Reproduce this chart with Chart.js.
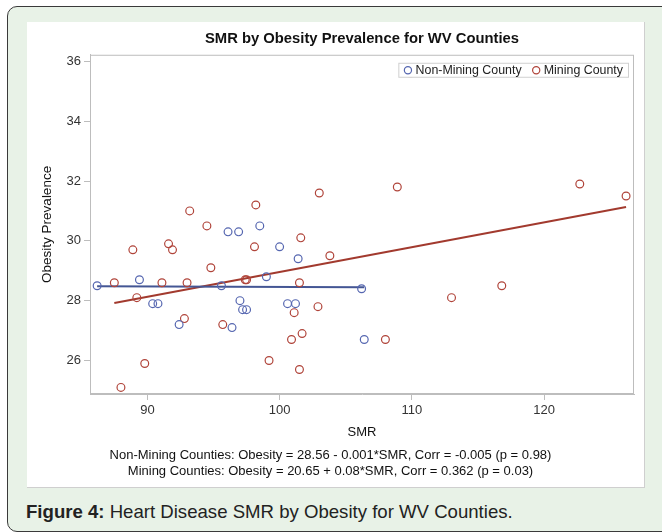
<!DOCTYPE html>
<html>
<head>
<meta charset="utf-8">
<script src="https://cdn.jsdelivr.net/npm/chart.js@4.4.1/dist/chart.umd.min.js"></script>
<style>
  body { margin: 0; background: #fff; font-family: "Liberation Sans", Arial, sans-serif; }
  #frame { position: absolute; left: 7px; top: 6px; width: 680px; height: 524px;
           border: 1.5px solid #3a3a3a; border-radius: 10px; background: #e8f2e7; }
  #box { position: absolute; left: 27px; top: 22px; width: 617px; height: 465px;
         background: #fff; border-right: 1px solid #cfcfcf; border-bottom: 1px solid #cfcfcf; }
  #caption { position: absolute; left: 26px; top: 501px; font-size: 18.6px; color: #222; }
</style>
</head>
<body>
<div id="frame"></div>
<div id="box"><canvas id="chart" width="617" height="465"></canvas></div>
<div id="caption"><b>Figure 4:</b> Heart Disease SMR by Obesity for WV Counties.</div>
<script>
// Non-mining counties: SMR, obesity prevalence
const nonMiningSmr = [86.2, 89.4, 90.4, 90.8, 92.4, 95.6, 96.1, 96.4, 96.9, 97.0,
                      97.2, 97.5, 98.5, 99.0, 100.0, 100.6, 101.2, 101.4, 106.2, 106.4]
const nonMiningObesity = [28.5, 28.7, 27.9, 27.9, 27.2, 28.5, 30.3, 27.1, 30.3, 28.0,
                          27.7, 27.7, 30.5, 28.8, 29.8, 27.9, 27.9, 29.4, 28.4, 26.7]

// Mining counties
const miningSmr = [87.5, 88.0, 88.9, 89.2, 89.8, 91.1, 91.6, 91.9, 92.8, 93.0,
                   93.2, 94.5, 94.8, 95.7, 97.4, 97.5, 98.1, 98.2, 99.2, 100.9,
                   101.1, 101.5, 101.5, 101.6, 101.7, 102.9, 103.0, 103.8, 108.0, 108.9,
                   109.9, 113.0, 116.8, 122.7, 126.2]
const miningObesity = [28.6, 25.1, 29.7, 28.1, 25.9, 28.6, 29.9, 29.7, 27.4, 28.6,
                       31.0, 30.5, 29.1, 27.2, 28.7, 28.7, 29.8, 31.2, 26.0, 26.7,
                       27.6, 28.6, 25.7, 30.1, 26.9, 27.8, 31.6, 29.5, 26.7, 31.8,
                       35.6, 28.1, 28.5, 31.9, 31.5]

// fitted line end points
const nonMiningFitSmr = [86.2, 106.4]
const nonMiningFitObesity = [28.48, 28.45]
const miningFitSmr = [87.5, 126.2]
const miningFitObesity = [27.92, 31.13]

const xTicks = [90, 100, 110, 120]
const yTicks = [26, 28, 30, 32, 34, 36]

const seriesLabels = ['Non-Mining County', 'Mining County']
const footnotes = [
    'Non-Mining Counties: Obesity = 28.56 - 0.001*SMR, Corr = -0.005 (p = 0.98)',
    'Mining Counties: Obesity = 20.65 + 0.08*SMR, Corr = 0.362 (p = 0.03)'
]

const BLUE = '#5566b0'
const RED = '#b0443a'
const BLUE_LINE = '#445694'
const RED_LINE = '#a23a2e'
const FONT = '"Liberation Sans", Arial, sans-serif'

function toPoints(xs, ys) {
    return xs.map((x, i) => ({ x: x, y: ys[i] }))
}

const frameAndLegend = {
    id: 'frameAndLegend',
    afterDraw(chart) {
        const ctx = chart.ctx
        const a = chart.chartArea
        ctx.save()
        ctx.strokeStyle = '#bdbdbd'
        ctx.lineWidth = 1
        ctx.strokeRect(a.left + 0.5, a.top + 0.5, a.right - a.left - 1, a.bottom - a.top - 1)

        ctx.font = '12.4px ' + FONT
        const colors = [BLUE, RED]
        const r = 3.6
        const w = seriesLabels.map(t => ctx.measureText(t).width)
        const total = 6 + (2 * r + 4 + w[0]) + 11 + (2 * r + 4 + w[1]) + 6
        const right = a.right - 5
        const left = right - total
        const top = a.top + 8
        const h = 15
        ctx.fillStyle = '#fff'
        ctx.fillRect(left, top, total, h)
        ctx.strokeStyle = '#d0d0d0'
        ctx.strokeRect(left + 0.5, top + 0.5, total - 1, h - 1)
        let x = left + 6
        seriesLabels.forEach((t, i) => {
            ctx.beginPath()
            ctx.arc(x + r, top + h / 2, r, 0, Math.PI * 2)
            ctx.strokeStyle = colors[i]
            ctx.lineWidth = 1.2
            ctx.stroke()
            x += 2 * r + 4
            ctx.fillStyle = '#222'
            ctx.textBaseline = 'middle'
            ctx.fillText(t, x, top + h / 2 + 0.5)
            x += w[i] + 11
        })
        ctx.restore()
    }
}

new Chart(document.getElementById('chart'), {
    type: 'scatter',
    data: {
        datasets: [
            {
                label: seriesLabels[0],
                data: toPoints(nonMiningSmr, nonMiningObesity),
                borderColor: BLUE, backgroundColor: 'rgba(0,0,0,0)',
                pointRadius: 3.9, borderWidth: 1.2, pointHoverRadius: 3.9
            },
            {
                label: seriesLabels[1],
                data: toPoints(miningSmr, miningObesity),
                borderColor: RED, backgroundColor: 'rgba(0,0,0,0)',
                pointRadius: 3.9, borderWidth: 1.2, pointHoverRadius: 3.9
            },
            {
                label: 'fit1', type: 'line',
                data: toPoints(nonMiningFitSmr, nonMiningFitObesity),
                borderColor: BLUE_LINE, borderWidth: 2, pointRadius: 0, fill: false
            },
            {
                label: 'fit2', type: 'line',
                data: toPoints(miningFitSmr, miningFitObesity),
                borderColor: RED_LINE, borderWidth: 2, pointRadius: 0, fill: false
            }
        ]
    },
    options: {
        responsive: false,
        animation: false,
        layout: { padding: { left: 0, right: 10, top: 0, bottom: 0 } },
        plugins: {
            legend: { display: false },
            tooltip: { enabled: false },
            title: {
                display: true,
                text: 'SMR by Obesity Prevalence for WV Counties',
                fullSize: false,
                color: '#111',
                font: { family: FONT, size: 14.8, weight: 'bold' },
                padding: { top: 8, bottom: 7 }
            },
            subtitle: {
                display: true,
                position: 'bottom',
                text: footnotes,
                color: '#111',
                font: { family: FONT, size: 13, lineHeight: 1.2 },
                padding: { top: 8, bottom: 8 }
            }
        },
        scales: {
            x: {
                type: 'linear',
                min: 85.66, max: 126.8,
                afterBuildTicks: s => { s.ticks = xTicks.map(v => ({ value: v })) },
                afterFit: s => { s.height = 45.8 },
                grid: { drawOnChartArea: false, drawTicks: true, tickLength: 6, color: '#bdbdbd' },
                border: { color: '#bdbdbd' },
                ticks: { color: '#333', font: { family: FONT, size: 13 }, padding: 3 },
                title: { display: true, text: 'SMR', color: '#111',
                         font: { family: FONT, size: 13 }, padding: { top: 0, bottom: 0 } }
            },
            y: {
                type: 'linear',
                min: 24.88, max: 36.22,
                afterBuildTicks: s => { s.ticks = yTicks.map(v => ({ value: v })) },
                afterFit: s => { s.width = 63 },
                grid: { drawOnChartArea: false, drawTicks: true, tickLength: 6, color: '#bdbdbd' },
                border: { color: '#bdbdbd' },
                ticks: { color: '#333', font: { family: FONT, size: 13 }, padding: 3 },
                title: { display: true, text: 'Obesity Prevalence', color: '#111',
                         font: { family: FONT, size: 13.5 }, padding: { top: 12, bottom: 0 } }
            }
        }
    },
    plugins: [frameAndLegend]
})
</script>
</body>
</html>
